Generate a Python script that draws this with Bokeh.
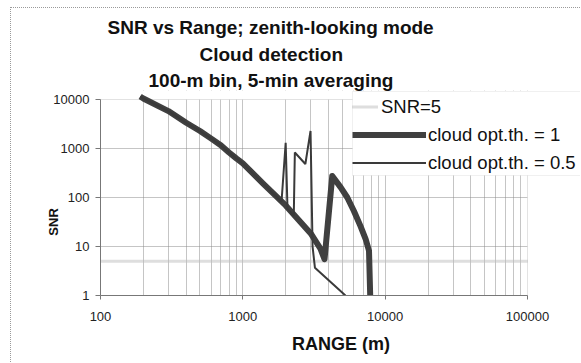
from bokeh.plotting import figure
from bokeh.models import FixedTicker, Legend, LegendItem, PrintfTickFormatter, Title, BoxAnnotation
from bokeh.embed import file_html
from bokeh.resources import INLINE

# ---------------- data ----------------
title_lines = ["SNR vs Range; zenith-looking mode", "Cloud detection", "100-m bin, 5-min averaging"]
x_title = "RANGE (m)"
y_title = "SNR"

x_ticks = [100, 1000, 10000, 100000]
x_tick_labels = ["100", "1000", "10000", "100000"]
y_ticks = [1, 10, 100, 1000, 10000]
y_tick_labels = ["1", "10", "100", "1000", "10000"]

series_names = ["SNR=5", "cloud opt.th. = 1", "cloud opt.th. = 0.5"]

snr5_range = [100, 100000]
snr5_value = [5, 5]

thick_range = [190, 200, 300, 400, 500, 600, 700, 800, 900, 1000, 1400, 2000, 3000, 3500,
               3750, 4250, 4870, 5420, 6030, 6710, 7290, 7700, 7850]
thick_snr = [11500, 10500, 5800, 3350, 2280, 1590, 1170, 830, 628, 497, 188, 69, 18.5, 9.2,
             5.5, 276, 161, 100, 53, 26, 14.2, 8.2, 1.0]

thin_range = [190, 200, 300, 400, 500, 600, 700, 800, 900, 1000, 1400, 1870, 2000, 2060,
              2280, 2320, 2750, 2990, 3090, 3210, 5260]
thin_snr = [11500, 10500, 5800, 3350, 2280, 1590, 1170, 830, 628, 497, 188, 82, 1310, 58,
            43, 830, 483, 2280, 10, 3.7, 1.0]

x_minor = [m * k for m in x_ticks[:-1] for k in range(2, 10)]

FONT = "Liberation Sans"
GRID = "#8a8a8a"

# plot area shows 100..100000 and 1..10000; frame is a little larger so the legend can overhang
X_END = 239600
Y_END = 15270

# ---------------- figure ----------------
p = figure(width=570, height=355, x_axis_type="log", y_axis_type="log",
           x_range=(100, X_END), y_range=(1, Y_END), title=None,
           output_backend="svg", toolbar_location=None,
           min_border_left=89, min_border_right=0, min_border_top=82, min_border_bottom=68)
p.styles = {"margin-left": "10px", "margin-top": "7px",
            "border-left": "1px dotted #9a9a9a", "border-top": "1px dotted #9a9a9a"}
p.outline_line_color = None
p.background_fill_color = "white"
p.border_fill_color = "white"

# grids
p.xgrid.ticker = FixedTicker(ticks=x_ticks, minor_ticks=x_minor)
p.xgrid.grid_line_color = GRID
p.xgrid.grid_line_dash = "1 1"
p.xgrid.minor_grid_line_color = GRID
p.xgrid.minor_grid_line_dash = "1 1"
p.ygrid.ticker = FixedTicker(ticks=y_ticks, minor_ticks=[])
p.ygrid.grid_line_color = GRID
p.ygrid.grid_line_dash = "1 1"
p.ygrid.minor_grid_line_color = None
p.xgrid.level = "image"
p.ygrid.level = "image"

# white masks outside the 100..100000 x 1..10000 plot area
p.add_layout(BoxAnnotation(bottom=y_ticks[-1], fill_color="white", fill_alpha=1.0,
                           line_color=None, level="underlay"))
p.add_layout(BoxAnnotation(left=x_ticks[-1], fill_color="white", fill_alpha=1.0,
                           line_color=None, level="underlay"))

# axes
p.xaxis.ticker = FixedTicker(ticks=x_ticks, minor_ticks=[])
p.yaxis.ticker = FixedTicker(ticks=y_ticks, minor_ticks=[])
p.xaxis.formatter = PrintfTickFormatter(format="%d")
p.yaxis.formatter = PrintfTickFormatter(format="%d")
p.xaxis.major_label_overrides = dict(zip(x_ticks, x_tick_labels))
p.yaxis.major_label_overrides = dict(zip(y_ticks, y_tick_labels))
p.xaxis.bounds = (x_ticks[0], x_ticks[-1])
p.yaxis.bounds = (y_ticks[0], y_ticks[-1])
for ax in (p.xaxis[0], p.yaxis[0]):
    ax.axis_line_color = "#777777"
    ax.major_tick_line_color = "#777777"
    ax.minor_tick_line_color = None
    ax.major_tick_in = 0
    ax.major_label_text_font = FONT
    ax.major_label_text_font_size = "13px"
    ax.major_label_text_color = "#222222"
    ax.axis_label_text_font = FONT
    ax.axis_label_text_font_style = "bold"
    ax.axis_label_text_color = "#111111"
p.xaxis.major_tick_out = 4
p.xaxis.major_label_standoff = 12
p.yaxis.major_tick_out = 5
p.yaxis.major_label_standoff = 6
p.xaxis.axis_label = x_title
p.xaxis.axis_label_text_font_size = "18px"
p.xaxis.axis_label_standoff = 10
# trailing no-break spaces push the centred, rotated word down to where the original has it
p.yaxis.axis_label = y_title + "\u00a0" * 16
p.yaxis.axis_label_text_font_size = "13px"
p.yaxis.axis_label_standoff = -11

# series
r_snr5 = p.line(snr5_range, snr5_value, line_color="#bdbdbd", line_width=3, line_dash="1 1")
r_thick = p.line(thick_range, thick_snr, line_color="#404040", line_width=6, line_join="round")
r_thin = p.line(thin_range, thin_snr, line_color="#3a3a3a", line_width=2)

# title lines, stacked above the frame (nearest first)
title_offsets = [48, 99, 7]
title_standoffs = [0, 6, 1]
for txt, off, so in zip(reversed(title_lines), title_offsets, title_standoffs):
    p.add_layout(Title(text=txt, align="left", offset=off, standoff=so, vertical_align="bottom",
                       text_font=FONT, text_font_size="19px", text_font_style="bold",
                       text_color="#111111"), "above")

# legend: one framed white box holding two borderless legends
# (the SNR=5 sample is short, the cloud samples are long, as in the original)
p.add_layout(BoxAnnotation(left=252, right=600, bottom=120, top=204,
                           left_units="screen", right_units="screen",
                           bottom_units="screen", top_units="screen",
                           fill_color="white", fill_alpha=1.0,
                           line_color="#9a9a9a", line_dash="1 1", line_width=1,
                           level="annotation"))


def make_legend(names, renderers, glyph_w, standoff, loc):
    lg = Legend(items=[LegendItem(label=n, renderers=[r]) for n, r in zip(names, renderers)],
                location=loc)
    lg.label_text_font = FONT
    lg.label_text_font_size = "18.5px"
    lg.label_text_color = "#111111"
    lg.glyph_width = glyph_w
    lg.glyph_height = 25
    lg.label_height = 25
    lg.label_standoff = standoff
    lg.spacing = 3
    lg.padding = 2
    lg.margin = 0
    lg.border_line_color = None
    lg.background_fill_alpha = 0.0
    return lg


p.add_layout(make_legend(series_names[:1], [r_snr5], 26, 3, (252, 176)))
p.add_layout(make_legend(series_names[1:], [r_thick, r_thin], 74, 2, (252, 120)))

open("out.html", "w").write(file_html(p, INLINE))
